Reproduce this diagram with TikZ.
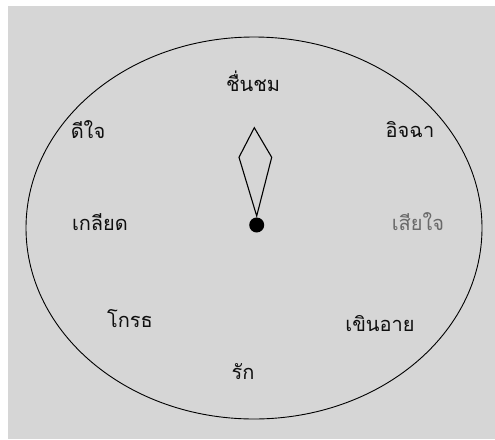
\documentclass[tikz,border=0pt]{standalone}
\usepackage{fontspec}
\newfontfamily\thaifont[Script=Thai]{Loma}
\definecolor{bg}{RGB}{214,214,214}
\definecolor{lbl}{RGB}{15,15,15}
\definecolor{soft}{RGB}{105,105,105}
\begin{document}
\begin{tikzpicture}[x=1pt,y=-1pt,
  word/.style={font=\thaifont\fontsize{20}{24}\selectfont, text=lbl, inner sep=0pt}]
\useasboundingbox (0,0) rectangle (495,439);
\fill[white] (0,0) rectangle (495,439);
\fill[bg] (8,6) rectangle (495,439);
\draw[line width=0.9pt] (254,228) ellipse [x radius=228, y radius=191];
% needle
\coordinate (tip) at (254.3,127.7);
\coordinate (lft) at (239,157.3);
\coordinate (rgt) at (271.7,157.3);
\coordinate (hub) at (256.7,216);
\draw[line width=1.1pt, line join=miter] (tip) -- (lft) -- (hub) -- (rgt) -- cycle;
\node[circle, fill=black, minimum size=15pt, inner sep=0pt] (dot) at (256.7,225) {};
% labels
\node[word] (a) at (253,81) {ชื่นชม};
\node[word] (b) at (88,130) {ดีใจ};
\node[word] (c) at (410,130) {อิจฉา};
\node[word] (d) at (100,222) {เกลียด};
\node[word, text=soft] (e) at (418,222) {เสียใจ};
\node[word] (f) at (130,319) {โกรธ};
\node[word] (g) at (380,324) {เขินอาย};
\node[word] (h) at (243,372) {รัก};
\end{tikzpicture}
\end{document}
